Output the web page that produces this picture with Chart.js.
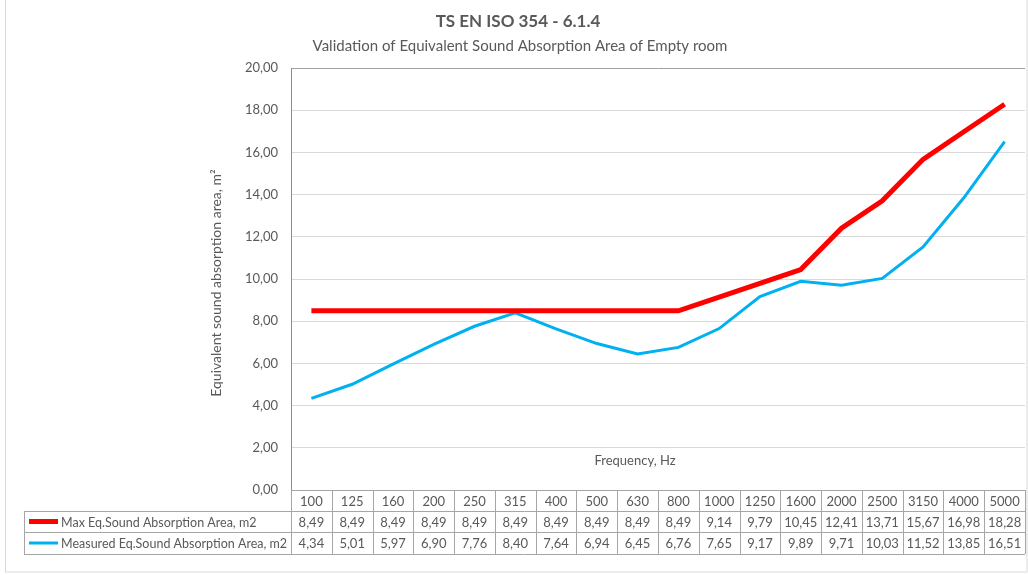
<!DOCTYPE html>
<html>
<head>
<meta charset="utf-8">
<script src="https://cdn.jsdelivr.net/npm/chart.js@4.4.1/dist/chart.umd.min.js"></script>
<style>
  html, body { margin: 0; padding: 0; background: #fff; }
  #wrap { position: absolute; left: 0; top: 0; width: 1028px; height: 575px; }
</style>
</head>
<body>
<div id="wrap"><canvas id="chart" width="1028" height="575"></canvas></div>
<script>
const frequencies = ['100', '125', '160', '200', '250', '315', '400', '500', '630', '800',
  '1000', '1250', '1600', '2000', '2500', '3150', '4000', '5000'];
const maxArea = [8.49, 8.49, 8.49, 8.49, 8.49, 8.49, 8.49, 8.49, 8.49, 8.49,
  9.14, 9.79, 10.45, 12.41, 13.71, 15.67, 16.98, 18.28];
const measuredArea = [4.34, 5.01, 5.97, 6.90, 7.76, 8.40, 7.64, 6.94, 6.45, 6.76,
  7.65, 9.17, 9.89, 9.71, 10.03, 11.52, 13.85, 16.51];
const seriesNames = ['Max Eq.Sound Absorption Area, m2', 'Measured Eq.Sound Absorption Area, m2'];
const yTicks = [0, 2, 4, 6, 8, 10, 12, 14, 16, 18, 20];

const FONT = 'Lato, "Open Sans", sans-serif';
const TEXT = '#595959';
const fmt = v => v.toFixed(2).replace('.', ',');

// title, axis titles, data table and frame
const decorations = {
  id: 'decorations',
  afterDraw(chart) {
    const ctx = chart.ctx;
    const area = chart.chartArea;
    const xs = chart.scales.x;
    ctx.save();

    // outer frame
    ctx.strokeStyle = '#d9d9d9';
    ctx.lineWidth = 1;
    ctx.strokeRect(5.5, -0.5, 1021.5, 572.5);

    ctx.fillStyle = TEXT;
    ctx.textAlign = 'center';
    ctx.textBaseline = 'middle';
    ctx.font = 'bold 17px ' + FONT;
    ctx.fillText('TS EN ISO 354 - 6.1.4', 518, 22);
    ctx.font = '15px ' + FONT;
    ctx.fillText('Validation of Equivalent Sound Absorption Area of Empty room', 520, 46);

    ctx.font = '13px ' + FONT;
    ctx.fillText('Frequency, Hz', 635, 461);

    ctx.save();
    ctx.translate(216, 283);
    ctx.rotate(-Math.PI / 2);
    ctx.font = '14px ' + FONT;
    ctx.fillText('Equivalent sound absorption area, m\u00b2', 0, 0);
    ctx.restore();

    // data table
    const n = frequencies.length;
    const colW = (area.right - area.left) / n;
    const top = Math.round(area.bottom);
    const r1 = 511, r2 = 532, r3 = 554;
    const tLeft = 24;
    ctx.strokeStyle = '#a6a6a6';
    ctx.lineWidth = 1;
    ctx.beginPath();
    ctx.moveTo(area.left, top + 0.5); ctx.lineTo(area.right, top + 0.5);
    [r1, r2, r3].forEach(y => { ctx.moveTo(tLeft, y + 0.5); ctx.lineTo(area.right, y + 0.5); });
    ctx.moveTo(tLeft + 0.5, r1); ctx.lineTo(tLeft + 0.5, r3);
    for (let i = 0; i <= n; i++) {
      const x = Math.round(area.left + i * colW) + 0.5;
      ctx.moveTo(x, top); ctx.lineTo(x, r3);
    }
    ctx.stroke();

    ctx.fillStyle = TEXT;
    ctx.font = '13px ' + FONT;
    ctx.textAlign = 'center';
    for (let i = 0; i < n; i++) {
      const cx = xs.getPixelForValue(i);
      ctx.fillText(frequencies[i], cx, (top + r1) / 2 + 1);
      ctx.fillText(fmt(maxArea[i]), cx, (r1 + r2) / 2 + 1);
      ctx.fillText(fmt(measuredArea[i]), cx, (r2 + r3) / 2 + 1);
    }

    // legend keys, series names fitted to the label column
    const rows = [(r1 + r2) / 2, (r2 + r3) / 2];
    let size = 13;
    ctx.font = size + 'px ' + FONT;
    const widest = Math.max(...seriesNames.map(s => ctx.measureText(s).width));
    if (widest > 226) size = size * 226 / widest;
    chart.data.datasets.forEach((ds, k) => {
      ctx.strokeStyle = ds.borderColor;
      ctx.lineWidth = ds.borderWidth;
      ctx.beginPath();
      ctx.moveTo(29, rows[k]);
      ctx.lineTo(58, rows[k]);
      ctx.stroke();
      ctx.fillStyle = TEXT;
      ctx.textAlign = 'left';
      ctx.font = size.toFixed(2) + 'px ' + FONT;
      ctx.fillText(seriesNames[k], 61, rows[k] + 1);
    });
    ctx.restore();
  }
};

new Chart(document.getElementById('chart'), {
  type: 'line',
  data: {
    labels: frequencies,
    datasets: [
      { label: seriesNames[0], data: maxArea, borderColor: '#ff0000', borderWidth: 5,
        pointRadius: 0, tension: 0, borderCapStyle: 'butt' },
      { label: seriesNames[1], data: measuredArea, borderColor: '#00b0f0', borderWidth: 3,
        pointRadius: 0, tension: 0 }
    ]
  },
  options: {
    responsive: false,
    animation: false,
    layout: { padding: { top: 68, right: 3, left: 0, bottom: 0 } },
    plugins: {
      legend: { display: false },
      tooltip: { enabled: false },
      title: { display: false }
    },
    scales: {
      x: {
        offset: true,
        grid: { display: false, drawTicks: false },
        border: { display: false },
        ticks: { display: false },
        afterFit: s => { s.height = 85; }
      },
      y: {
        min: 0,
        max: 20,
        afterBuildTicks: s => { s.ticks = yTicks.map(v => ({ value: v })); },
        afterFit: s => { s.width = 291; },
        grid: {
          drawTicks: false,
          color: c => c.tick && c.tick.value === 20 ? '#a0a0a0' : '#d9d9d9'
        },
        border: { display: true, color: '#8c8c8c' },
        ticks: {
          padding: 13,
          color: TEXT,
          font: { family: FONT, size: 13 },
          callback: v => fmt(v)
        }
      }
    }
  },
  plugins: [decorations]
});
</script>
</body>
</html>
